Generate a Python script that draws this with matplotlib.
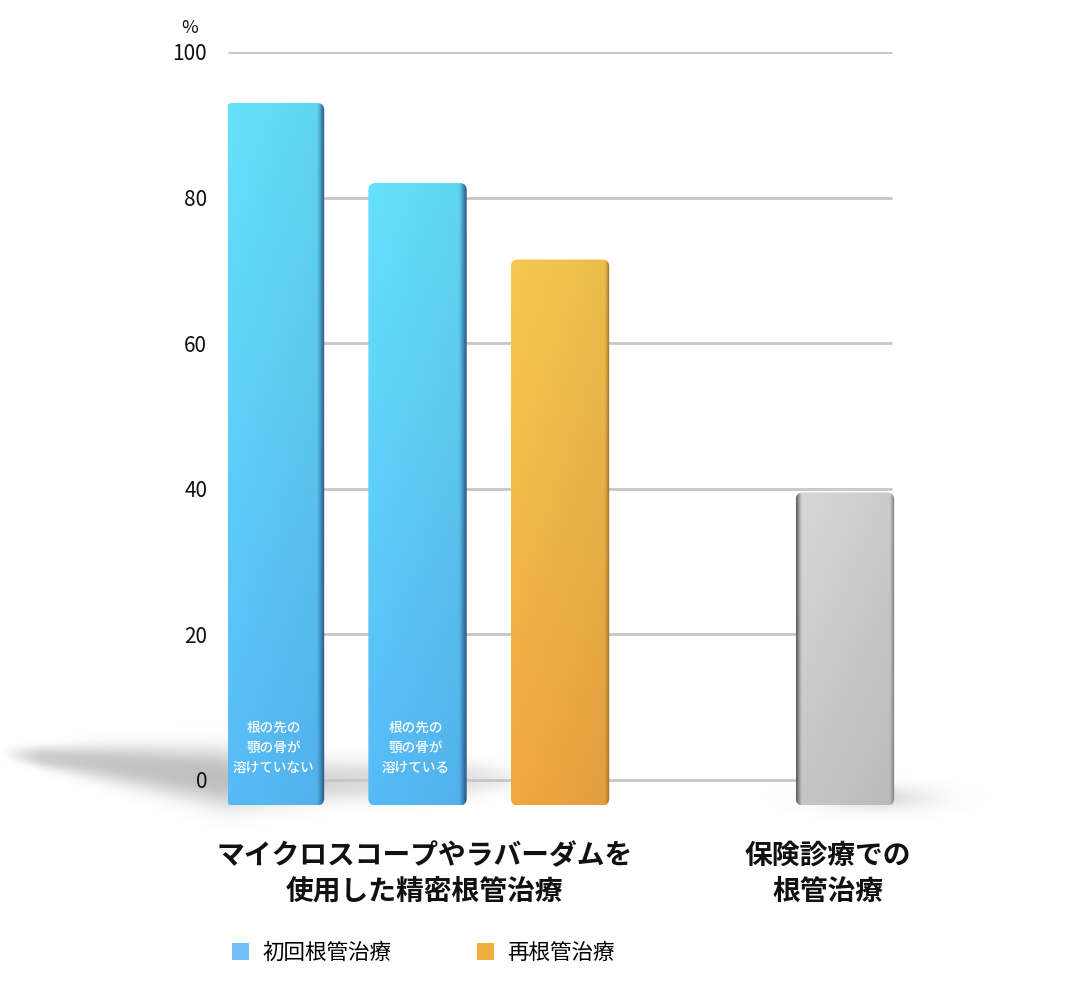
import numpy as np
import matplotlib
matplotlib.use("Agg")
import matplotlib.pyplot as plt
from matplotlib.patches import FancyBboxPatch, Patch

plt.rcParams['font.family'] = ['Noto Sans CJK JP', 'DejaVu Sans']

# Data
positions = [0, 1, 2, 4]
values = [93, 82, 71.5, 39.5]
inner_labels = ['根の先の\n顎の骨が\n溶けていない', '根の先の\n顎の骨が\n溶けている', '', '']
group_labels = ['マイクロスコープやラバーダムを\n使用した精密根管治療', '保険診療での\n根管治療']
group_x = [1.05, 3.88]
legend_labels = ['初回根管治療', '再根管治療']
legend_colors = ['#72BEF7', '#F2AE3C']
yticks = [0, 20, 40, 60, 80, 100]

# bar shading: (top, bottom, left edge, right edge, left width, right width)
styles = [
    ('#66E2FC', '#57BBF9', '#57BBF9', '#24507E', 0.0, 0.08),
    ('#66E2FC', '#57BBF9', '#57BBF9', '#24507E', 0.0, 0.08),
    ('#F7C950', '#F1A742', '#F1A742', '#94651F', 0.0, 0.05),
    ('#D8D8D8', '#C6C6C6', '#585858', '#737373', 0.06, 0.05),
]
BAR_W = 0.69
DEPTH = 3.5  # front face drops below the 0 line


def rgb(c):
    return np.array(matplotlib.colors.to_rgb(c))


def face_image(top, bottom, edge_l, edge_r, wl, wr, n=200):
    v = np.linspace(0, 1, n)[:, None, None]
    h = np.linspace(0, 1, n)[None, :, None]
    face = rgb(top) * (1 - v) + rgb(bottom) * v
    face = face * (1 - 0.06 * h)
    k = np.clip((h - (1 - wr)) / wr, 0, 1) ** 1.2
    img = face * (1 - k) + rgb(edge_r) * k
    if wl > 0:
        k2 = np.clip((wl - h) / wl, 0, 1) ** 1.2
        img = img * (1 - k2) + rgb(edge_l) * k2
    return np.clip(img, 0, 1)


W, H = 1082, 986
fig = plt.figure(figsize=(W / 100, H / 100), dpi=100)

# soft floor shadow (background layer, pixel coordinates)
sh = fig.add_axes([0, 0, 1, 1], zorder=0)
sh.set_xlim(0, W)
sh.set_ylim(H, 0)
sh.axis('off')
xx, yy = np.meshgrid(np.arange(0, W, 2), np.arange(0, H, 2))
cx = [0, 40, 120, 215, 230, 330, 470, 520, 560]
cy = [752, 756, 764, 776, 778, 780, 778, 778, 778]
hw = [5, 10, 19, 28, 28, 20, 16, 10, 4]
amp = [0.0, 0.36, 0.42, 0.46, 0.45, 0.28, 0.2, 0.08, 0.0]
yc = np.interp(xx, cx, cy)
hh = np.interp(xx, cx, hw)
aa = np.interp(xx, cx, amp)
alpha = aa * np.exp(-np.abs((yy - yc) / hh) ** 2.5)
alpha += 0.25 * np.exp(-(((xx - 875) / 55) ** 2 + ((yy - 797) / 12) ** 2))
shadow = np.zeros(xx.shape + (4,))
shadow[..., :3] = 0.45
shadow[..., 3] = np.clip(alpha, 0, 1)
sh.imshow(shadow, extent=(0, W, H, 0), aspect='auto', interpolation='bilinear')

x_per_px = 4.66 / 664
y_per_px = 105 / 764.4
x_lo, x_hi = -0.33, 4.33
ax = fig.add_axes([228 / W, 1 - 816.4 / H, 680 / W, 764.4 / H], zorder=1)
ax.patch.set_alpha(0)
for s in ax.spines.values():
    s.set_visible(False)
ax.set_xticks([])
ax.set_yticks(yticks)
ax.tick_params(axis='y', length=0, pad=15, labelsize=15, labelcolor='#111111')
ax.hlines(yticks, x_lo, x_hi, color='#C6C6C6', linewidth=2, zorder=1)

bars = ax.bar(positions, values, width=BAR_W, bottom=-DEPTH, color='none', zorder=3)
for rect, v, st in zip(bars, values, styles):
    x0, y0 = rect.get_x(), rect.get_y()
    w, hgt = rect.get_width(), v + DEPTH
    clip = FancyBboxPatch((x0, y0), w, hgt,
                          boxstyle='round,pad=0,rounding_size=%f' % (7 * x_per_px),
                          mutation_aspect=y_per_px / x_per_px,
                          transform=ax.transData, facecolor='none', edgecolor='none')
    ax.add_patch(clip)
    im = ax.imshow(face_image(*st), extent=(x0, x0 + w, y0, y0 + hgt),
                   aspect='auto', interpolation='bilinear', zorder=3)
    im.set_clip_path(clip)

for x, t in zip(positions, inner_labels):
    if t:
        ax.text(x - 0.01, 4.4, t, ha='center', va='center', color='white',
                fontsize=9.8, fontweight='medium', linespacing=1.55, zorder=5)

for x, t in zip(group_x, group_labels):
    ax.text(x, -12.9, t, ha='center', va='center', fontsize=20,
            fontweight='bold', linespacing=1.37, color='#111111', clip_on=False)

ax.text(-0.6, 103.3, '%', ha='center', va='center', fontsize=13,
        color='#111111', clip_on=False)
ax.set_xlim(x_lo, x_lo + 680 * x_per_px)
ax.set_ylim(-5, 100)

handles = [Patch(facecolor=c, edgecolor='none') for c in legend_colors]
fig.legend(handles, legend_labels, loc='center left',
           bbox_to_anchor=(232 / W, 1 - 953 / H), ncol=2, frameon=False,
           fontsize=15.5, handlelength=0.8, handleheight=0.8,
           handletextpad=0.6, columnspacing=4.0, borderpad=0, borderaxespad=0)

fig.savefig('out.png', dpi=100, facecolor='white')
